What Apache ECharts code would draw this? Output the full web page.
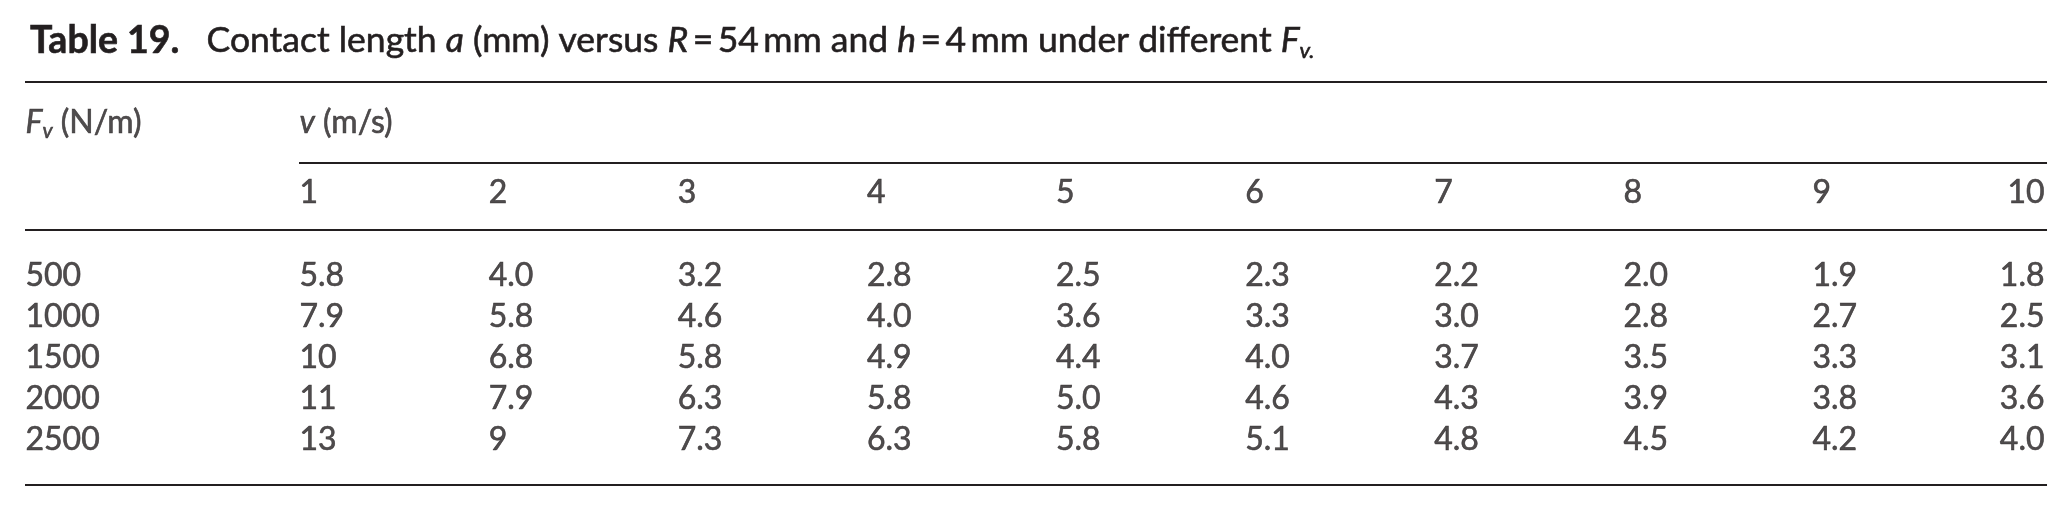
<!DOCTYPE html>
<html>
<head>
<meta charset="utf-8">
<script src="https://cdn.jsdelivr.net/npm/echarts@6/dist/echarts.min.js"></script>
<style>
  html, body { margin: 0; padding: 0; background: #fff; }
  #main { width: 2072px; height: 512px; }
</style>
</head>
<body>
<div id="main"></div>
<script>
// table data, as printed
let speeds = ['1', '2', '3', '4', '5', '6', '7', '8', '9', '10'];
let forces = ['500', '1000', '1500', '2000', '2500'];
let len500 = ['5.8', '4.0', '3.2', '2.8', '2.5', '2.3', '2.2', '2.0', '1.9', '1.8'];
let len1000 = ['7.9', '5.8', '4.6', '4.0', '3.6', '3.3', '3.0', '2.8', '2.7', '2.5'];
let len1500 = ['10', '6.8', '5.8', '4.9', '4.4', '4.0', '3.7', '3.5', '3.3', '3.1'];
let len2000 = ['11', '7.9', '6.3', '5.8', '5.0', '4.6', '4.3', '3.9', '3.8', '3.6'];
let len2500 = ['13', '9', '7.3', '6.3', '5.8', '5.1', '4.8', '4.5', '4.2', '4.0'];

let rows = [len500, len1000, len1500, len2000, len2500];

let chartDom = document.getElementById('main');
let myChart = echarts.init(chartDom);

const INK = '#231f20';
const FONT = 'Lato';
const THIN = '\u2009';

// x axis: one unit per speed column, y axis: one unit per data row
const COL_LABEL = -0.4488;   // F_v column
const COL_END = 10.2426;     // right end of rules
const COL_LAST = 10.232;     // right edge of the last column
const ROW_HEAD = -3.732;
const ROW_SPEED = -2.024;
const RULES = [
  [COL_LABEL, COL_END, -4.732],
  [1, COL_END, -2.756],
  [COL_LABEL, COL_END, -1.122],
  [COL_LABEL, COL_END, 5.098]
];

let leftCells = [];
let rightCells = [];
let labelCells = [];

labelCells.push([COL_LABEL, ROW_HEAD, '{i|F}{s|v} (N/m)']);
labelCells.push([1, ROW_HEAD, '{i|v} (m/s)']);
for (let j = 0; j < speeds.length; j++) {
  if (j === speeds.length - 1) rightCells.push([COL_LAST, ROW_SPEED, speeds[j]]);
  else leftCells.push([j + 1, ROW_SPEED, speeds[j]]);
}
for (let i = 0; i < forces.length; i++) {
  labelCells.push([COL_LABEL, i, forces[i]]);
  for (let j = 0; j < rows[i].length; j++) {
    if (j === rows[i].length - 1) rightCells.push([COL_LAST, i, rows[i][j]]);
    else leftCells.push([j + 1, i, rows[i][j]]);
  }
}

// a hair of stroke to get closer to the darker print face
let ink = { color: INK, textBorderColor: INK, textBorderWidth: 0.6 };

let cellText = Object.assign({
  fontFamily: FONT,
  fontSize: 32,
  lineHeight: 38,
  rich: {
    i: Object.assign({ fontFamily: FONT, fontSize: 32, lineHeight: 38, fontStyle: 'italic' }, ink),
    s: Object.assign({ fontFamily: FONT, fontSize: 21, lineHeight: 18, fontStyle: 'italic', verticalAlign: 'bottom' }, ink)
  }
}, ink);

function cellSeries(data, position) {
  return {
    type: 'scatter',
    data: data,
    symbolSize: 1,
    itemStyle: { color: 'rgba(0,0,0,0)' },
    silent: true,
    label: Object.assign({
      show: true,
      position: position,
      distance: 0,
      formatter: function (p) { return p.data[2]; }
    }, cellText)
  };
}

let ruleSeries = cellSeries(labelCells, 'right');
ruleSeries.markLine = {
  silent: true,
  symbol: ['none', 'none'],
  label: { show: false },
  lineStyle: { type: 'solid', width: 2, color: INK },
  data: RULES.map(function (r) {
    return [{ coord: [r[0], r[2]] }, { coord: [r[1], r[2]] }];
  })
};

let option = {
  animation: false,
  backgroundColor: '#fff',
  title: {
    left: 25,
    top: 15,
    text: '{b|Table 19.}Contact length {i|a} (mm) versus {i|R}' + THIN + '=' + THIN + '54' + THIN +
      'mm and {i|h}' + THIN + '=' + THIN + '4' + THIN + 'mm under different {i|F}{s|v.}',
    textStyle: Object.assign({
      fontFamily: FONT,
      fontSize: 35.5,
      fontWeight: 'normal',
      lineHeight: 42,
      rich: {
        b: Object.assign({ fontFamily: FONT, fontSize: 37.5, lineHeight: 42, fontWeight: 'bold', padding: [0, 27, 0, 0] }, ink),
        i: Object.assign({ fontFamily: FONT, fontSize: 35.5, lineHeight: 42, fontStyle: 'italic' }, ink),
        s: Object.assign({ fontFamily: FONT, fontSize: 22, lineHeight: 20, fontStyle: 'italic', verticalAlign: 'bottom' }, ink)
      }
    }, ink)
  },
  grid: { left: 0, right: 0, top: 0, bottom: 0 },
  xAxis: {
    type: 'value',
    min: -0.581,
    max: 10.3747,
    show: false
  },
  yAxis: {
    type: 'value',
    inverse: true,
    min: -6.7317,
    max: 5.7561,
    show: false
  },
  series: [
    ruleSeries,
    cellSeries(leftCells, 'right'),
    cellSeries(rightCells, 'left')
  ]
};

myChart.setOption(option);
</script>
</body>
</html>
